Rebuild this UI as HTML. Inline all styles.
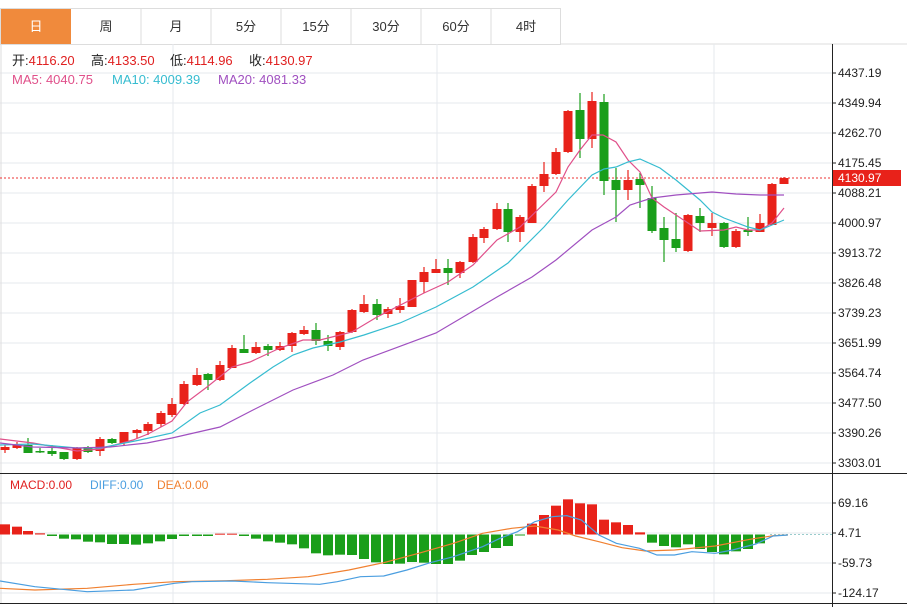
<!DOCTYPE html>
<html><head><meta charset="utf-8"><style>
body{margin:0;background:#fff;width:907px;height:607px;overflow:hidden;font-family:"Liberation Sans","Noto Sans CJK SC",sans-serif}
svg{position:absolute;left:0;top:0}
</style></head><body>
<svg id="s" width="907" height="607" xmlns="http://www.w3.org/2000/svg" font-family="Liberation Sans, Noto Sans CJK SC, sans-serif">
<rect x="0.5" y="8.5" width="560" height="36" fill="#fff" stroke="#ddd"/>
<rect x="1" y="9" width="70" height="35" fill="#f08a3c"/>
<g stroke="#ddd"><line x1="141" y1="9" x2="141" y2="44"/><line x1="211" y1="9" x2="211" y2="44"/><line x1="281" y1="9" x2="281" y2="44"/><line x1="351" y1="9" x2="351" y2="44"/><line x1="421" y1="9" x2="421" y2="44"/><line x1="491" y1="9" x2="491" y2="44"/>
<line x1="561" y1="44" x2="907" y2="44"/></g>
<g font-size="13" text-anchor="middle" fill="#333">
<text x="36" y="31" fill="#fff">日</text><text x="106" y="31">周</text><text x="176" y="31">月</text><text x="246" y="31">5分</text><text x="316" y="31">15分</text><text x="386" y="31">30分</text><text x="456" y="31">60分</text><text x="526" y="31">4时</text></g>
<g id="grid" stroke="#e6e9ee" stroke-width="1"></g>
<line x1="1" y1="44" x2="1" y2="603" stroke="#ddd"/>
<line x1="832.5" y1="44" x2="832.5" y2="607" stroke="#222"/>
<line x1="0" y1="473.5" x2="907" y2="473.5" stroke="#222"/>
<line x1="0" y1="603.5" x2="907" y2="603.5" stroke="#222"/>
<g id="axis" font-size="12" fill="#222"></g>
<line x1="0" y1="178" x2="832" y2="178" stroke="#e33" stroke-dasharray="2,2"/>
<rect x="833" y="170" width="68" height="16" fill="#e8221a"/>
<text x="838" y="182" font-size="12" fill="#fff">4130.97</text>
<g id="c"></g>
<g id="m"></g>
<g font-size="13">
<text x="12" y="65" fill="#222">开:<tspan fill="#e02020">4116.20</tspan></text>
<text x="91" y="65" fill="#222">高:<tspan fill="#e02020">4133.50</tspan></text>
<text x="170" y="65" fill="#222">低:<tspan fill="#e02020">4114.96</tspan></text>
<text x="249" y="65" fill="#222">收:<tspan fill="#e02020">4130.97</tspan></text>
<text x="12" y="84" fill="#e0508a">MA5: 4040.75</text>
<text x="112" y="84" fill="#36bcd0">MA10: 4009.39</text>
<text x="218" y="84" fill="#a050c0">MA20: 4081.33</text>
</g>
<g font-size="12"><text x="10" y="489" fill="#e02020">MACD:0.00</text><text x="90" y="489" fill="#4a9ee0">DIFF:0.00</text><text x="157" y="489" fill="#f08030">DEA:0.00</text></g>
</svg>
<script>
var NS="http://www.w3.org/2000/svg";
function el(p,t,a){var e=document.createElementNS(NS,t);for(var k in a)e.setAttribute(k,a[k]);p.appendChild(e);return e;}
var g=document.getElementById('grid'),ax=document.getElementById('axis');
var labs=["4437.19","4349.94","4262.70","4175.45","4088.21","4000.97","3913.72","3826.48","3739.23","3651.99","3564.74","3477.50","3390.26","3303.01"];
for(var i=0;i<labs.length;i++){var y=73+i*30;el(g,'line',{x1:0,y1:y,x2:832,y2:y});el(ax,'line',{x1:832,y1:y,x2:836,y2:y,stroke:'#222'});var t=el(ax,'text',{x:838,y:y+4});t.textContent=labs[i];}
var ml=["69.16","4.71","-59.73","-124.17"];
for(var i=0;i<4;i++){var y=503+i*30;el(g,'line',{x1:0,y1:y,x2:832,y2:y});el(ax,'line',{x1:832,y1:y,x2:836,y2:y,stroke:'#222'});var t=el(ax,'text',{x:838,y:y+4});t.textContent=ml[i];}
[173,437,714].forEach(function(x){el(g,'line',{x1:x,y1:44,x2:x,y2:603});});
var C=[[5,447,450,445,453,1],[17,444,448,442,449,1],[28,445,453,438,453,0],[40,451,452,448,453,0],[52,451,454,445,456,0],[64,452,459,452,460,0],[77,448,459,447,460,1],[88,447,452,446,453,0],[100,439,451,437,456,1],[112,439,443,438,444,0],[124,432,443,432,446,1],[137,430,433,429,438,1],[148,424,431,422,435,1],[161,413,424,411,427,1],[172,404,415,398,417,1],[184,384,404,381,405,1],[197,375,385,368,386,1],[208,374,380,373,390,0],[220,365,380,361,381,1],[232,348,368,345,368,1],[244,349,353,335,353,0],[256,347,353,342,354,1],[268,346,350,344,356,0],[280,346,350,342,351,1],[292,333,346,332,352,1],[304,330,334,326,335,1],[316,330,341,323,345,0],[328,341,346,335,351,0],[340,332,347,331,350,1],[352,310,332,309,333,1],[364,304,312,295,313,1],[377,304,315,299,320,0],[388,309,314,307,318,1],[400,306,310,298,313,1],[412,280,307,280,307,1],[424,272,282,267,293,1],[436,269,273,259,273,1],[448,268,273,259,285,0],[460,262,273,261,278,1],[473,237,262,234,263,1],[484,229,238,227,243,1],[497,209,229,203,230,1],[508,209,232,203,242,0],[520,217,232,215,242,1],[532,186,223,184,223,1],[544,174,186,162,192,1],[556,152,174,148,175,1],[568,111,152,110,153,1],[580,110,139,93,158,0],[592,101,139,92,148,1],[604,102,181,94,195,0],[616,180,190,168,222,0],[628,180,190,170,200,1],[640,179,185,173,208,0],[652,198,231,186,233,0],[664,228,240,217,262,0],[676,239,248,213,252,0],[688,215,251,214,252,1],[700,216,223,208,232,0],[712,223,228,213,236,1],[724,223,247,222,248,0],[736,231,247,229,248,1],[748,230,232,217,236,0],[760,223,232,214,232,1],[772,184,225,183,225,1],[784,178,184,177,184,1]];
var c=document.getElementById('c');
C.forEach(function(d){var col=d[5]?'#e8221a':'#1a9e1a';el(c,'line',{x1:d[0],y1:d[3],x2:d[0],y2:d[4],stroke:col,'stroke-width':1.2});el(c,'rect',{x:d[0]-4.5,y:d[1],width:9,height:Math.max(1.5,d[2]-d[1]),fill:col});});
function pl(p,pts,col){el(p,'polyline',{points:pts.map(function(q){return q.join(',')}).join(' '),fill:'none',stroke:col,'stroke-width':1.2});}
pl(c,[[0,439],[33,443],[77,451],[100,449],[133,440],[148,434],[172,421],[187,402],[207,387],[232,367],[250,362],[280,348],[303,340],[320,340],[340,335],[352,332],[377,317],[424,293],[448,282],[473,265],[497,240],[520,227],[556,192],[568,167],[580,150],[592,135],[603,135],[616,142],[628,160],[640,172],[652,198],[664,207],[688,223],[700,231],[724,230],[736,227],[748,230],[760,230],[772,223],[784,208]],'#e0508a');
pl(c,[[0,445],[33,444],[77,448],[100,448],[140,440],[172,433],[200,413],[220,405],[250,383],[273,367],[293,355],[313,348],[340,342],[364,335],[400,323],[436,307],[473,287],[508,263],[544,227],[568,200],[592,175],[604,169],[616,167],[628,162],[640,159],[660,168],[676,180],[700,200],[712,212],[724,218],[748,227],[760,230],[772,225],[784,220]],'#36bcd0');
pl(c,[[0,443],[33,447],[77,448],[110,447],[147,443],[172,438],[220,427],[253,410],[293,390],[333,375],[363,360],[436,333],[497,297],[532,277],[556,260],[592,230],[616,217],[630,205],[652,198],[676,195],[700,193],[712,192],[736,194],[760,195],[784,195]],'#a050c0');
var m=document.getElementById('m');
var base=534.5;
var A=[[5,73],[17,80],[28,93],[40,100],[52,108],[64,116],[76,118],[88,125],[100,127],[112,132],[124,132],[136,134],[148,130],[160,124],[172,117],[184,108],[197,108],[208,108],[220,101],[232,101],[244,108],[256,116],[268,124],[280,128],[292,133],[304,145],[316,160],[328,166],[340,164],[352,165],[364,177],[376,187],[388,192],[400,191],[412,186]];
var B=[[424,218],[436,222],[448,222],[460,212],[472,195],[484,186],[496,174],[508,168],[520,136],[532,101],[544,75],[556,47],[568,28],[580,40],[592,43],[604,89],[616,97],[628,105],[640,127],[652,158],[664,168],[676,172],[688,163],[700,177],[712,186],[724,193],[736,184],[748,177],[760,160]];
var bars=A.map(function(q){return [q[0],500+q[1]/3];}).concat(B.map(function(q){return [q[0],490+q[1]/3];}));
bars.forEach(function(b){var y=b[1];var red=y<base-0.3;var top=Math.min(y,base),ht=Math.max(1,Math.abs(y-base));el(m,'rect',{x:b[0]-5,y:top,width:10,height:ht,fill:red?'#e8221a':'#1a9e1a'});});
el(m,'line',{x1:770,y1:534.5,x2:832,y2:534.5,stroke:'#9cc',"stroke-dasharray":"2,2"});
function cv(a){return a.map(function(q){return [q[0]/1.72,420+q[1]/3];});}
pl(m,cv([[0,505],[60,510],[150,505],[230,493],[300,485],[390,482],[460,478],[530,470],[600,450],[660,428],[720,400],[780,370],[830,340],[880,325],[920,318],[960,330],[990,348],[1030,365],[1070,383],[1110,393],[1160,390],[1230,378],[1290,358],[1330,347],[1355,345]]),'#f08030');
pl(m,cv([[0,483],[60,500],[150,515],[230,510],[300,490],[330,485],[400,483],[460,488],[550,493],[580,485],[620,470],[660,468],[700,450],[740,428],[780,410],[830,380],[860,355],[890,335],[920,305],[950,290],[975,287],[1000,300],[1030,345],[1060,370],[1100,385],[1130,405],[1160,405],[1190,395],[1230,400],[1260,390],[1300,372],[1330,348],[1355,345]]),'#4a9ee0');
</script>
</body></html>
